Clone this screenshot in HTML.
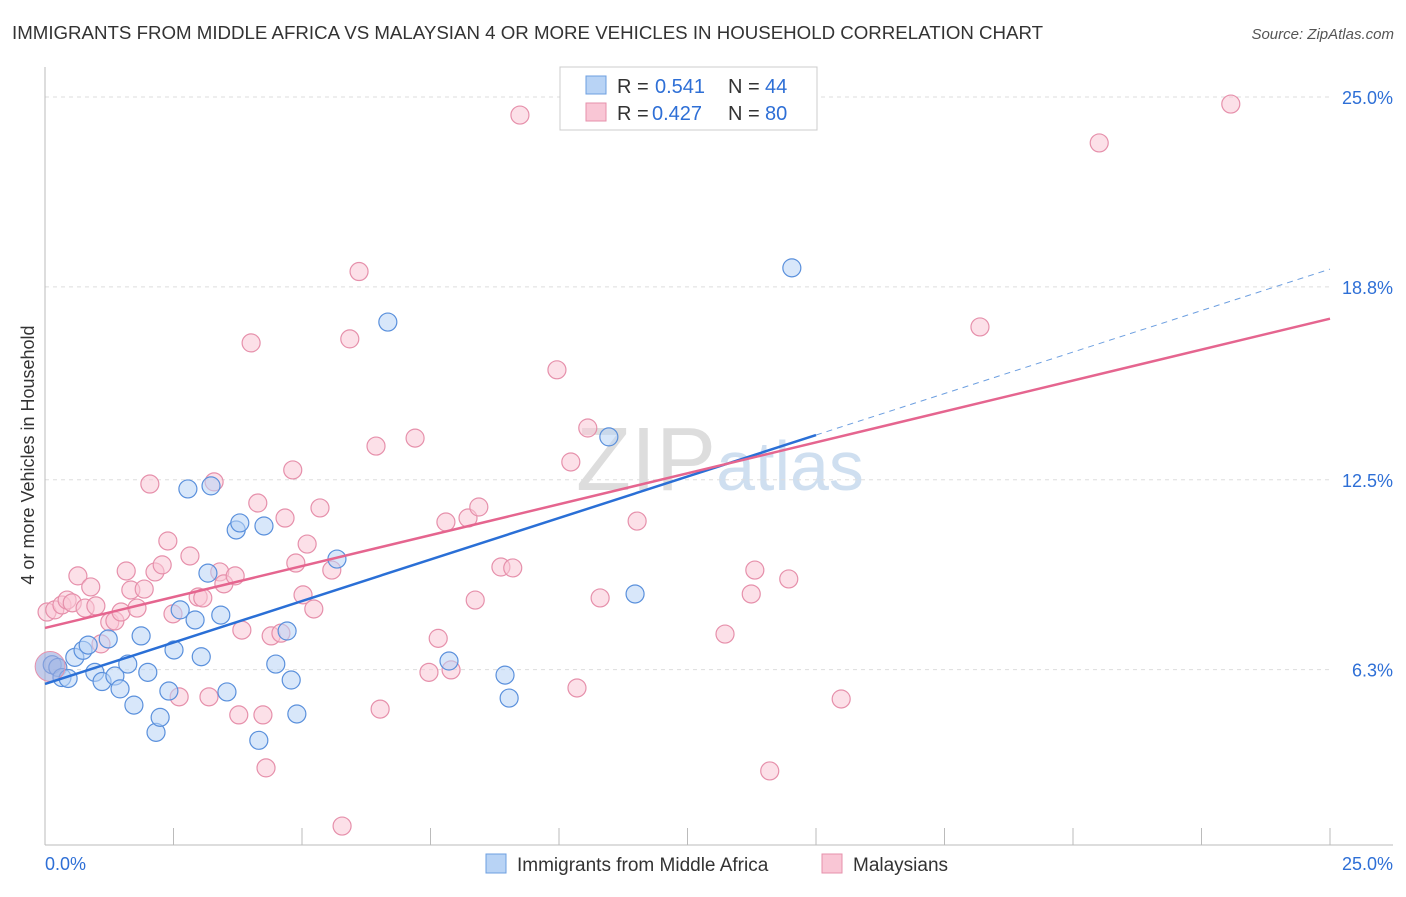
<!DOCTYPE html>
<html><head><meta charset="utf-8"><style>
body{margin:0;background:#fff;font-family:"Liberation Sans",sans-serif;}
svg text{font-family:"Liberation Sans",sans-serif;}
</style></head><body>
<svg id="chart" width="1406" height="892">
<text x="12" y="39" font-size="18.7" fill="#333">IMMIGRANTS FROM MIDDLE AFRICA VS MALAYSIAN 4 OR MORE VEHICLES IN HOUSEHOLD CORRELATION CHART</text>
<text x="1394" y="39" font-size="15" fill="#555" text-anchor="end" font-style="italic">Source: ZipAtlas.com</text>
<text x="34" y="455" font-size="18" fill="#333" text-anchor="middle" transform="rotate(-90 34 455)">4 or more Vehicles in Household</text>
<text x="720" y="490" font-size="90" fill="#ddd" text-anchor="middle" font-family="Liberation Serif">ZIP<tspan fill="#cfdff0" font-family="Liberation Sans" font-size="70">atlas</tspan></text>
<g id="grid"></g><g id="axes"></g><g id="pts"></g><g id="lines"></g>
<g>
<rect x="560" y="67" width="257" height="63" fill="#fff" stroke="#ccc"/>
<rect x="586" y="76" width="20" height="18" fill="#b8d3f5" stroke="#6d9fe0"/>
<rect x="586" y="103" width="20" height="18" fill="#f9c6d5" stroke="#e690ab"/>
<text x="617" y="93" font-size="20" fill="#333">R =</text>
<text x="655" y="93" font-size="20" fill="#2e6fd6">0.541</text>
<text x="728" y="93" font-size="20" fill="#333">N =</text>
<text x="765" y="93" font-size="20" fill="#2e6fd6">44</text>
<text x="617" y="120" font-size="20" fill="#333">R =</text>
<text x="652" y="120" font-size="20" fill="#2e6fd6">0.427</text>
<text x="728" y="120" font-size="20" fill="#333">N =</text>
<text x="765" y="120" font-size="20" fill="#2e6fd6">80</text>
</g>
<g>
<rect x="486" y="854" width="20" height="19" fill="#b8d3f5" stroke="#6d9fe0"/>
<text x="517" y="871" font-size="19" fill="#333">Immigrants from Middle Africa</text>
<rect x="822" y="854" width="20" height="19" fill="#f9c6d5" stroke="#e690ab"/>
<text x="853" y="871" font-size="19" fill="#333">Malaysians</text>
</g>
</svg>
<script>
const blueX=[0.14,0.25,0.33,0.45,0.58,0.74,0.84,0.97,1.11,1.23,1.36,1.46,1.61,1.73,1.87,2.00,2.16,2.24,2.41,2.51,2.63,2.78,2.92,3.04,3.17,3.23,3.42,3.54,3.72,3.79,4.16,4.26,4.49,4.71,4.79,4.90,5.68,6.67,7.86,8.95,9.03,10.97,11.48,14.53];
const blueY=[6.46,6.37,6.04,6.01,6.70,6.93,7.10,6.21,5.91,7.30,6.09,5.67,6.48,5.14,7.40,6.21,4.25,4.74,5.60,6.94,8.25,12.20,7.92,6.72,9.45,12.30,8.08,5.57,10.86,11.09,3.99,10.99,6.48,7.56,5.96,4.85,9.91,17.65,6.58,6.12,5.37,13.90,8.77,19.42];
const pinkX=[0.04,0.19,0.33,0.43,0.53,0.64,0.78,0.89,0.99,1.09,1.26,1.36,1.48,1.58,1.67,1.79,1.93,2.04,2.14,2.28,2.39,2.49,2.61,2.82,2.98,3.07,3.19,3.29,3.40,3.48,3.70,3.83,3.77,4.01,4.14,4.24,4.30,4.40,4.59,4.67,4.82,4.88,5.02,5.10,5.23,5.35,5.58,5.78,5.93,6.11,6.44,6.52,7.20,7.47,7.65,7.80,7.90,8.23,8.37,8.44,8.87,9.10,9.24,9.96,10.23,10.35,10.56,10.80,11.52,13.23,13.74,13.81,14.10,14.47,15.49,18.19,20.51,23.07];
const pinkY=[8.18,8.25,8.41,8.57,8.48,9.36,8.31,9.00,8.38,7.14,7.85,7.89,8.18,9.52,8.90,8.31,8.93,12.36,9.49,9.72,10.50,8.12,5.41,10.01,8.67,8.64,5.41,12.43,9.49,9.10,9.36,7.59,4.82,16.97,11.74,4.82,3.09,7.40,7.49,11.25,12.82,9.78,8.74,10.40,8.28,11.58,9.55,1.19,17.10,19.30,13.60,5.01,13.86,6.21,7.32,11.12,6.29,11.25,8.57,11.61,9.65,9.62,24.41,16.09,13.08,5.70,14.19,8.64,11.15,7.46,8.77,9.55,2.99,9.26,5.34,17.49,23.50,24.77];
const blueTrend=[5.83,0.542]; // intercept, slope
const pinkTrend=[7.66,0.404];
const yTicks=[6.3,12.5,18.8,25.0];
const xTickLabels=["0.0%","25.0%"];
const NS="http://www.w3.org/2000/svg";
const xs=v=>45+v/25*1285;
const ys=v=>862.5-v*30.62;
function mk(tag,attrs,parent){const e=document.createElementNS(NS,tag);for(const k in attrs)e.setAttribute(k,attrs[k]);document.getElementById(parent).appendChild(e);return e;}
yTicks.forEach(t=>{
 const g=mk('line',{x1:45,x2:1330,y1:ys(t),y2:ys(t),stroke:'#ddd','stroke-dasharray':'4,4'},'grid');
 
 
 const l=mk('text',{x:1393,y:ys(t)+7,'font-size':18,fill:'#2e6fd6','text-anchor':'end'},'axes');
 l.textContent=t.toFixed(1)+'%';
 
 
});
mk('line',{x1:45,x2:45,y1:67,y2:845,stroke:'#bbb'},'axes');
mk('line',{x1:45,x2:1393,y1:845,y2:845,stroke:'#bbb'},'axes');
for(let i=0;i<=10;i++){mk('line',{x1:45+i*128.5,x2:45+i*128.5,y1:828,y2:845,stroke:'#bbb'},'axes');}
const xl0=mk('text',{x:45,y:870,'font-size':18,fill:'#2e6fd6'},'axes');xl0.textContent=xTickLabels[0];


const xl1=mk('text',{x:1393,y:870,'font-size':18,fill:'#2e6fd6','text-anchor':'end'},'axes');xl1.textContent=xTickLabels[1];


function pts(X,Y,fill,stroke,name){X.forEach((x,i)=>{const c=mk('circle',{cx:xs(x),cy:ys(Y[i]),r:9,fill:fill,'fill-opacity':0.55,stroke:stroke,'stroke-width':1.2},'pts');
 
 });}
pts(pinkX,pinkY,'#f9c6d5','#e690ab','malaysian-point');
pts(blueX,blueY,'#b8d3f5','#5a90dc','middle-africa-point');
const big1=mk('circle',{cx:xs(0.1),cy:ys(6.4),r:15,fill:'#9aa8dc','fill-opacity':0.6,stroke:'#e690ab'},'pts');


const bl=mk('line',{x1:xs(0),y1:ys(blueTrend[0]),x2:xs(15),y2:ys(blueTrend[0]+blueTrend[1]*15),stroke:'#2a6fd6','stroke-width':2.5},'lines');


const bd=mk('line',{x1:xs(15),y1:ys(blueTrend[0]+blueTrend[1]*15),x2:xs(25),y2:ys(blueTrend[0]+blueTrend[1]*25),stroke:'#6d9fe0','stroke-width':1,'stroke-dasharray':'6,5'},'lines');


const pl=mk('line',{x1:xs(0),y1:ys(pinkTrend[0]),x2:xs(25),y2:ys(pinkTrend[0]+pinkTrend[1]*25),stroke:'#e5658f','stroke-width':2.5},'lines');


</script>
</body></html>
